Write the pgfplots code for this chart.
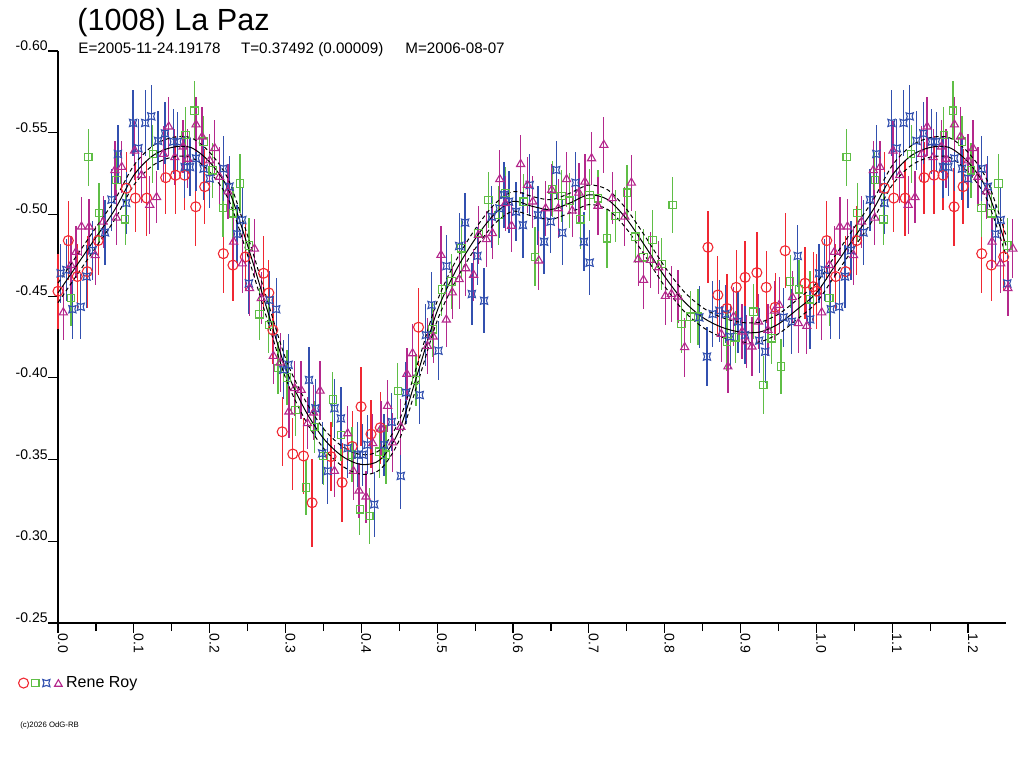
\documentclass[border=0pt]{standalone}
\usepackage{pgfplots}
\usepackage{pgfplotstable}
\pgfplotsset{compat=1.18}
\usepackage{fontspec}
\setmainfont{Liberation Sans}
\definecolor{cred}{RGB}{240,40,50}
\definecolor{cgreen}{RGB}{95,190,70}
\definecolor{cblue}{RGB}{50,80,175}
\definecolor{cpurple}{RGB}{180,40,140}
\pgfdeclareplotmark{cbox}{%
  \pgfpathmoveto{\pgfqpoint{-\pgfplotmarksize}{-\pgfplotmarksize}}%
  \pgfpathquadraticcurveto{\pgfqpoint{0pt}{-0.35\pgfplotmarksize}}{\pgfqpoint{\pgfplotmarksize}{-\pgfplotmarksize}}%
  \pgfpathquadraticcurveto{\pgfqpoint{0.35\pgfplotmarksize}{0pt}}{\pgfqpoint{\pgfplotmarksize}{\pgfplotmarksize}}%
  \pgfpathquadraticcurveto{\pgfqpoint{0pt}{0.35\pgfplotmarksize}}{\pgfqpoint{-\pgfplotmarksize}{\pgfplotmarksize}}%
  \pgfpathquadraticcurveto{\pgfqpoint{-0.35\pgfplotmarksize}{0pt}}{\pgfqpoint{-\pgfplotmarksize}{-\pgfplotmarksize}}%
  \pgfpathclose
  \pgfusepathqstroke
}
\pgfplotstableread{
x y e
0.000 -0.453 0.023
0.0136 -0.484 0.024
0.0254 -0.462 0.020
0.0386 -0.465 0.022
0.053 -0.484 0.021
0.090 -0.516 0.022
0.102 -0.510 0.021
0.117 -0.510 0.023
0.142 -0.5225 0.022
0.155 -0.524 0.024
0.167 -0.524 0.021
0.1816 -0.5047 0.024
0.1934 -0.517 0.023
0.218 -0.476 0.024
0.2307 -0.469 0.022
0.247 -0.474 0.021
0.271 -0.464 0.023
0.278 -0.452 0.020
0.2833 -0.4293 0.021
0.2956 -0.367 0.021
0.3096 -0.3534 0.022
0.3237 -0.3522 0.023
0.335 -0.3236 0.027
0.360 -0.3518 0.021
0.3746 -0.336 0.024
0.388 -0.358 0.022
0.3996 -0.3824 0.024
0.4127 -0.3656 0.021
0.425 -0.3695 0.022
0.4754 -0.431 0.024
0.857 -0.4799 0.022
0.870 -0.4507 0.024
0.882 -0.4425 0.021
0.8943 -0.4554 0.023
0.906 -0.4615 0.022
0.9215 -0.4644 0.025
0.9338 -0.4554 0.022
0.9456 -0.4432 0.021
0.9588 -0.4778 0.023
0.985 -0.4579 0.022
0.996 -0.4558 0.021
}\redtab
\pgfplotstableread{
x y e
0.017 -0.449 0.017
0.040 -0.535 0.0175
0.054 -0.501 0.018
0.077 -0.521 0.017
0.0886 -0.497 0.016
0.125 -0.537 0.018
0.168 -0.5486 0.017
0.180 -0.5635 0.018
0.192 -0.5445 0.016
0.204 -0.527 0.017
0.2175 -0.504 0.018
0.2307 -0.5007 0.016
0.240 -0.519 0.018
0.2517 -0.481 0.017
0.2658 -0.4389 0.016
0.278 -0.4323 0.017
0.290 -0.406 0.016
0.302 -0.4003 0.017
0.3132 -0.3803 0.016
0.327 -0.333 0.017
0.338 -0.370 0.016
0.3500 -0.3522 0.018
0.3623 -0.3867 0.017
0.373 -0.365 0.016
0.3877 -0.353 0.017
0.398 -0.3196 0.016
0.4105 -0.3155 0.017
0.4237 -0.3548 0.016
0.4325 -0.353 0.018
0.448 -0.392 0.017
0.472 -0.3987 0.016
0.4938 -0.4297 0.017
0.506 -0.454 0.016
0.519 -0.4589 0.017
0.532 -0.4793 0.018
0.5544 -0.4885 0.016
0.5675 -0.5088 0.017
0.5807 -0.4996 0.018
0.590 -0.513 0.016
0.614 -0.5078 0.017
0.629 -0.4741 0.018
0.6518 -0.5154 0.017
0.664 -0.5113 0.016
0.6746 -0.5084 0.017
0.689 -0.497 0.018
0.701 -0.5119 0.016
0.712 -0.5099 0.017
0.724 -0.4854 0.018
0.735 -0.499 0.016
0.7504 -0.5133 0.017
0.7614 -0.4864 0.016
0.772 -0.4738 0.017
0.784 -0.4845 0.018
0.7956 -0.4697 0.016
0.8105 -0.5058 0.017
0.822 -0.433 0.018
0.8338 -0.4374 0.016
0.8438 -0.4374 0.017
0.882 -0.4222 0.018
0.893 -0.4248 0.016
0.917 -0.4405 0.017
0.930 -0.3956 0.018
0.941 -0.4242 0.016
0.9535 -0.4069 0.017
0.9654 -0.4589 0.016
0.9772 -0.4542 0.018
0.9917 -0.4481 0.017
}\greentab
\pgfplotstableread{
x y e
0.0035 -0.464 0.018
0.011 -0.466 0.019
0.019 -0.442 0.018
0.030 -0.4435 0.020
0.0377 -0.462 0.019
0.0456 -0.478 0.018
0.062 -0.489 0.020
0.0706 -0.509 0.019
0.079 -0.537 0.018
0.090 -0.507 0.019
0.099 -0.556 0.020
0.106 -0.5405 0.018
0.115 -0.556 0.020
0.123 -0.560 0.019
0.132 -0.545 0.018
0.141 -0.5496 0.019
0.152 -0.5445 0.020
0.158 -0.5445 0.018
0.167 -0.529 0.019
0.174 -0.529 0.018
0.182 -0.5343 0.020
0.192 -0.528 0.019
0.200 -0.522 0.018
0.218 -0.528 0.020
0.226 -0.517 0.019
0.236 -0.488 0.018
0.243 -0.4966 0.020
0.2517 -0.4578 0.019
0.279 -0.4476 0.018
0.2877 -0.442 0.019
0.297 -0.405 0.018
0.304 -0.408 0.019
0.331 -0.3987 0.020
0.3395 -0.3814 0.018
0.3483 -0.3538 0.019
0.3557 -0.343 0.020
0.3645 -0.3814 0.018
0.373 -0.3752 0.019
0.382 -0.357 0.018
0.395 -0.353 0.020
0.4017 -0.353 0.019
0.408 -0.359 0.018
0.417 -0.3226 0.020
0.430 -0.359 0.019
0.440 -0.373 0.018
0.452 -0.340 0.020
0.4588 -0.391 0.019
0.477 -0.3895 0.018
0.485 -0.4262 0.019
0.4925 -0.4446 0.020
0.5017 -0.4166 0.018
0.5123 -0.4684 0.019
0.529 -0.4807 0.020
0.5368 -0.495 0.018
0.5457 -0.4513 0.019
0.553 -0.4746 0.018
0.5618 -0.4472 0.020
0.572 -0.4986 0.019
0.582 -0.5037 0.018
0.588 -0.512 0.020
0.5947 -0.5078 0.019
0.604 -0.5017 0.018
0.613 -0.4935 0.020
0.622 -0.518 0.019
0.633 -0.4996 0.018
0.641 -0.4833 0.020
0.6496 -0.4956 0.019
0.657 -0.5272 0.018
0.665 -0.4888 0.020
0.6825 -0.5194 0.019
0.6934 -0.4833 0.018
0.701 -0.4705 0.020
0.8456 -0.437 0.019
0.8557 -0.413 0.018
0.8632 -0.4391 0.020
0.872 -0.4411 0.019
0.880 -0.4391 0.018
0.8864 -0.4252 0.020
0.8965 -0.4344 0.019
0.906 -0.4262 0.018
0.9246 -0.4228 0.020
0.9325 -0.416 0.019
0.9566 -0.437 0.018
0.9675 -0.4344 0.020
0.9754 -0.4746 0.019
0.9917 -0.4358 0.018
}\bluetab
\pgfplotstableread{
x y e
0.007 -0.440 0.017
0.017 -0.469 0.018
0.0237 -0.477 0.016
0.031 -0.4925 0.018
0.041 -0.4925 0.017
0.049 -0.475 0.018
0.0596 -0.4955 0.016
0.075 -0.527 0.018
0.077 -0.498 0.017
0.084 -0.529 0.016
0.101 -0.539 0.018
0.110 -0.524 0.017
0.121 -0.5058 0.018
0.130 -0.5105 0.016
0.139 -0.537 0.017
0.146 -0.5537 0.018
0.154 -0.535 0.017
0.165 -0.5415 0.016
0.171 -0.534 0.018
0.182 -0.555 0.017
0.190 -0.5476 0.018
0.200 -0.533 0.016
0.2066 -0.5405 0.017
0.213 -0.523 0.018
0.224 -0.514 0.017
0.2316 -0.4833 0.016
0.243 -0.470 0.018
0.2526 -0.4548 0.017
0.259 -0.479 0.018
0.268 -0.4487 0.016
0.284 -0.4134 0.017
0.293 -0.4093 0.018
0.3044 -0.3793 0.016
0.312 -0.3936 0.017
0.3206 -0.3926 0.018
0.329 -0.3722 0.016
0.337 -0.3787 0.017
0.3456 -0.3921 0.018
0.3645 -0.343 0.016
0.382 -0.366 0.017
0.3895 -0.343 0.018
0.397 -0.331 0.017
0.4061 -0.3273 0.016
0.415 -0.360 0.018
0.426 -0.369 0.017
0.4346 -0.3828 0.016
0.4412 -0.3604 0.018
0.452 -0.370 0.017
0.460 -0.4024 0.016
0.4675 -0.415 0.018
0.4872 -0.4195 0.017
0.4947 -0.4252 0.016
0.505 -0.4752 0.018
0.512 -0.4356 0.017
0.520 -0.4522 0.016
0.529 -0.4603 0.018
0.5377 -0.467 0.017
0.548 -0.463 0.016
0.5544 -0.4874 0.018
0.5649 -0.4848 0.017
0.5728 -0.4885 0.016
0.5825 -0.5215 0.018
0.590 -0.5068 0.017
0.598 -0.493 0.016
0.610 -0.5308 0.018
0.619 -0.518 0.017
0.626 -0.5078 0.016
0.634 -0.4717 0.018
0.643 -0.5037 0.017
0.651 -0.515 0.016
0.6596 -0.5037 0.018
0.6706 -0.5215 0.017
0.678 -0.5023 0.016
0.6868 -0.5133 0.018
0.6947 -0.520 0.017
0.7035 -0.5343 0.016
0.712 -0.5052 0.018
0.7197 -0.5425 0.017
0.7307 -0.5099 0.016
0.7474 -0.4986 0.018
0.756 -0.5194 0.017
0.765 -0.4725 0.016
0.772 -0.4599 0.018
0.7811 -0.4721 0.017
0.792 -0.4676 0.016
0.8009 -0.4501 0.018
0.8088 -0.4513 0.017
0.8175 -0.4497 0.016
0.8263 -0.4187 0.018
0.8746 -0.4268 0.017
0.8833 -0.4069 0.016
0.8908 -0.4374 0.018
0.902 -0.4283 0.017
0.908 -0.4222 0.016
0.915 -0.4191 0.018
0.9237 -0.4344 0.017
0.936 -0.4293 0.016
0.9447 -0.4411 0.018
0.951 -0.4446 0.017
0.9684 -0.4493 0.016
0.9763 -0.4334 0.018
0.9873 -0.4317 0.017
}\purpletab
\pgfplotstableread{
x y
0.000 -0.452
0.025 -0.469
0.050 -0.486
0.075 -0.503
0.100 -0.524
0.125 -0.536
0.150 -0.541
0.175 -0.541
0.200 -0.532
0.225 -0.515
0.250 -0.481
0.275 -0.443
0.300 -0.406
0.325 -0.381
0.350 -0.363
0.375 -0.352
0.400 -0.347
0.425 -0.350
0.450 -0.368
0.475 -0.404
0.500 -0.441
0.525 -0.466
0.550 -0.485
0.575 -0.500
0.600 -0.508
0.625 -0.505
0.650 -0.503
0.675 -0.507
0.700 -0.512
0.725 -0.509
0.750 -0.497
0.775 -0.480
0.800 -0.462
0.825 -0.447
0.850 -0.437
0.875 -0.431
0.900 -0.428
0.925 -0.428
0.950 -0.433
0.975 -0.442
1.000 -0.452
1.025 -0.469
1.050 -0.486
1.075 -0.503
1.100 -0.524
1.125 -0.536
1.150 -0.541
1.175 -0.541
1.200 -0.532
1.225 -0.515
1.250 -0.481
}\fittab
\begin{document}
\begin{tikzpicture}
\useasboundingbox (0,0) rectangle (512pt,384pt);
\node[anchor=base west,inner sep=0pt,font=\fontsize{15.3}{17}\selectfont] at (38.5pt,368.5pt) {(1008) La Paz};
\node[anchor=base west,inner sep=0pt,font=\fontsize{7.6}{9}\selectfont] at (39pt,357pt) {E=2005-11-24.19178};
\node[anchor=base west,inner sep=0pt,font=\fontsize{7.6}{9}\selectfont] at (120.3pt,357pt) {T=0.37492 (0.00009)};
\node[anchor=base west,inner sep=0pt,font=\fontsize{7.6}{9}\selectfont] at (202.5pt,357pt) {M=2006-08-07};
\node[anchor=base west,inner sep=0pt,font=\fontsize{3.9}{4.5}\selectfont] at (10pt,20.5pt) {(c)2026 OdG-RB};
\begin{axis}[
  at={(29pt,72.5pt)}, anchor=south west,
  scale only axis, width=474pt, height=286pt,
  xmin=0, xmax=1.25, ymin=-0.60, ymax=-0.25,
  y dir=reverse,
  axis x line*=bottom, axis y line*=left,
  axis line style={-, line width=0.6pt},
  clip=false,
  tick align=outside,
  major tick length=5pt, minor tick length=4pt,
  tick style={line width=0.6pt, black},
  xtick={0,0.1,0.2,0.3,0.4,0.5,0.6,0.7,0.8,0.9,1.0,1.1,1.2},
  minor x tick num=1,
  ytick={-0.60,-0.55,-0.50,-0.45,-0.40,-0.35,-0.30,-0.25},
  /pgf/number format/assume math mode=true,
  xticklabel style={font=\fontsize{7}{8}\selectfont, rotate=-90, anchor=base west, inner sep=0pt,
    /pgf/number format/.cd, fixed, fixed zerofill, precision=1},
  yticklabel style={font=\fontsize{7}{8}\selectfont, anchor=south east, inner sep=0pt,
    /pgf/number format/.cd, fixed, fixed zerofill, precision=2},
  legend style={draw=none, fill=none, inner sep=0pt, font=\fontsize{8}{9}\selectfont,
    at={(axis description cs:-0.042,-0.105)}, anchor=west},
  legend cell align=left,
]
% red
\addplot[only marks, mark=o, mark size=2.5pt, cred, mark options={line width=0.55pt}, forget plot,
  error bars/.cd, y dir=both, y explicit, error mark=none, error bar style={line width=0.65pt, cred}]
  table[x=x, y=y, y error=e]{\redtab};
\addplot[only marks, mark=o, mark size=2.5pt, cred, mark options={line width=0.55pt}, forget plot,
  restrict x to domain=1:1.26,
  error bars/.cd, y dir=both, y explicit, error mark=none, error bar style={line width=0.65pt, cred}]
  table[x expr=\thisrow{x}+1, y=y, y error=e]{\redtab};
% green
\addplot[only marks, mark=square, mark size=1.85pt, cgreen, mark options={line width=0.55pt}, forget plot,
  error bars/.cd, y dir=both, y explicit, error mark=none, error bar style={line width=0.65pt, cgreen}]
  table[x=x, y=y, y error=e]{\greentab};
\addplot[only marks, mark=square, mark size=1.85pt, cgreen, mark options={line width=0.55pt}, forget plot,
  restrict x to domain=1:1.26,
  error bars/.cd, y dir=both, y explicit, error mark=none, error bar style={line width=0.65pt, cgreen}]
  table[x expr=\thisrow{x}+1, y=y, y error=e]{\greentab};
% blue
\addplot[only marks, mark=cbox, mark size=1.8pt, cblue, mark options={line width=0.55pt}, forget plot,
  error bars/.cd, y dir=both, y explicit, error mark=none, error bar style={line width=0.65pt, cblue}]
  table[x=x, y=y, y error=e]{\bluetab};
\addplot[only marks, mark=cbox, mark size=1.8pt, cblue, mark options={line width=0.55pt}, forget plot,
  restrict x to domain=1:1.26,
  error bars/.cd, y dir=both, y explicit, error mark=none, error bar style={line width=0.65pt, cblue}]
  table[x expr=\thisrow{x}+1, y=y, y error=e]{\bluetab};
% purple
\addplot[only marks, mark=triangle, mark size=2.35pt, cpurple, mark options={line width=0.55pt}, forget plot,
  error bars/.cd, y dir=both, y explicit, error mark=none, error bar style={line width=0.65pt, cpurple}]
  table[x=x, y=y, y error=e]{\purpletab};
\addplot[only marks, mark=triangle, mark size=2.35pt, cpurple, mark options={line width=0.55pt}, forget plot,
  restrict x to domain=1:1.26,
  error bars/.cd, y dir=both, y explicit, error mark=none, error bar style={line width=0.65pt, cpurple}]
  table[x expr=\thisrow{x}+1, y=y, y error=e]{\purpletab};
% fit curves
\addplot[black, line width=0.5pt, smooth, no marks, forget plot] table[x=x, y=y]{\fittab};
\addplot[black, line width=0.5pt, smooth, no marks, dash pattern=on 2pt off 1.5pt, forget plot] table[x=x, y expr=\thisrow{y}+0.006]{\fittab};
\addplot[black, line width=0.5pt, smooth, no marks, dash pattern=on 2pt off 1.5pt, forget plot] table[x=x, y expr=\thisrow{y}-0.006]{\fittab};
\addlegendimage{legend image code/.code={
  \begin{scope}[cred, line width=0.55pt, shift={(2.5pt,0pt)}]\pgfsetplotmarksize{2.5pt}\pgfuseplotmark{o}\end{scope}
  \begin{scope}[cgreen, line width=0.55pt, shift={(8.4pt,0pt)}]\pgfsetplotmarksize{1.8pt}\pgfuseplotmark{square}\end{scope}
  \begin{scope}[cblue, line width=0.55pt, shift={(13.9pt,0pt)}]\pgfsetplotmarksize{1.8pt}\pgfuseplotmark{cbox}\end{scope}
  \begin{scope}[cpurple, line width=0.55pt, shift={(19.9pt,-0.5pt)}]\pgfsetplotmarksize{2.2pt}\pgfuseplotmark{triangle}\end{scope}
}}
\addlegendentry{Rene Roy}
\end{axis}
\end{tikzpicture}
\end{document}
